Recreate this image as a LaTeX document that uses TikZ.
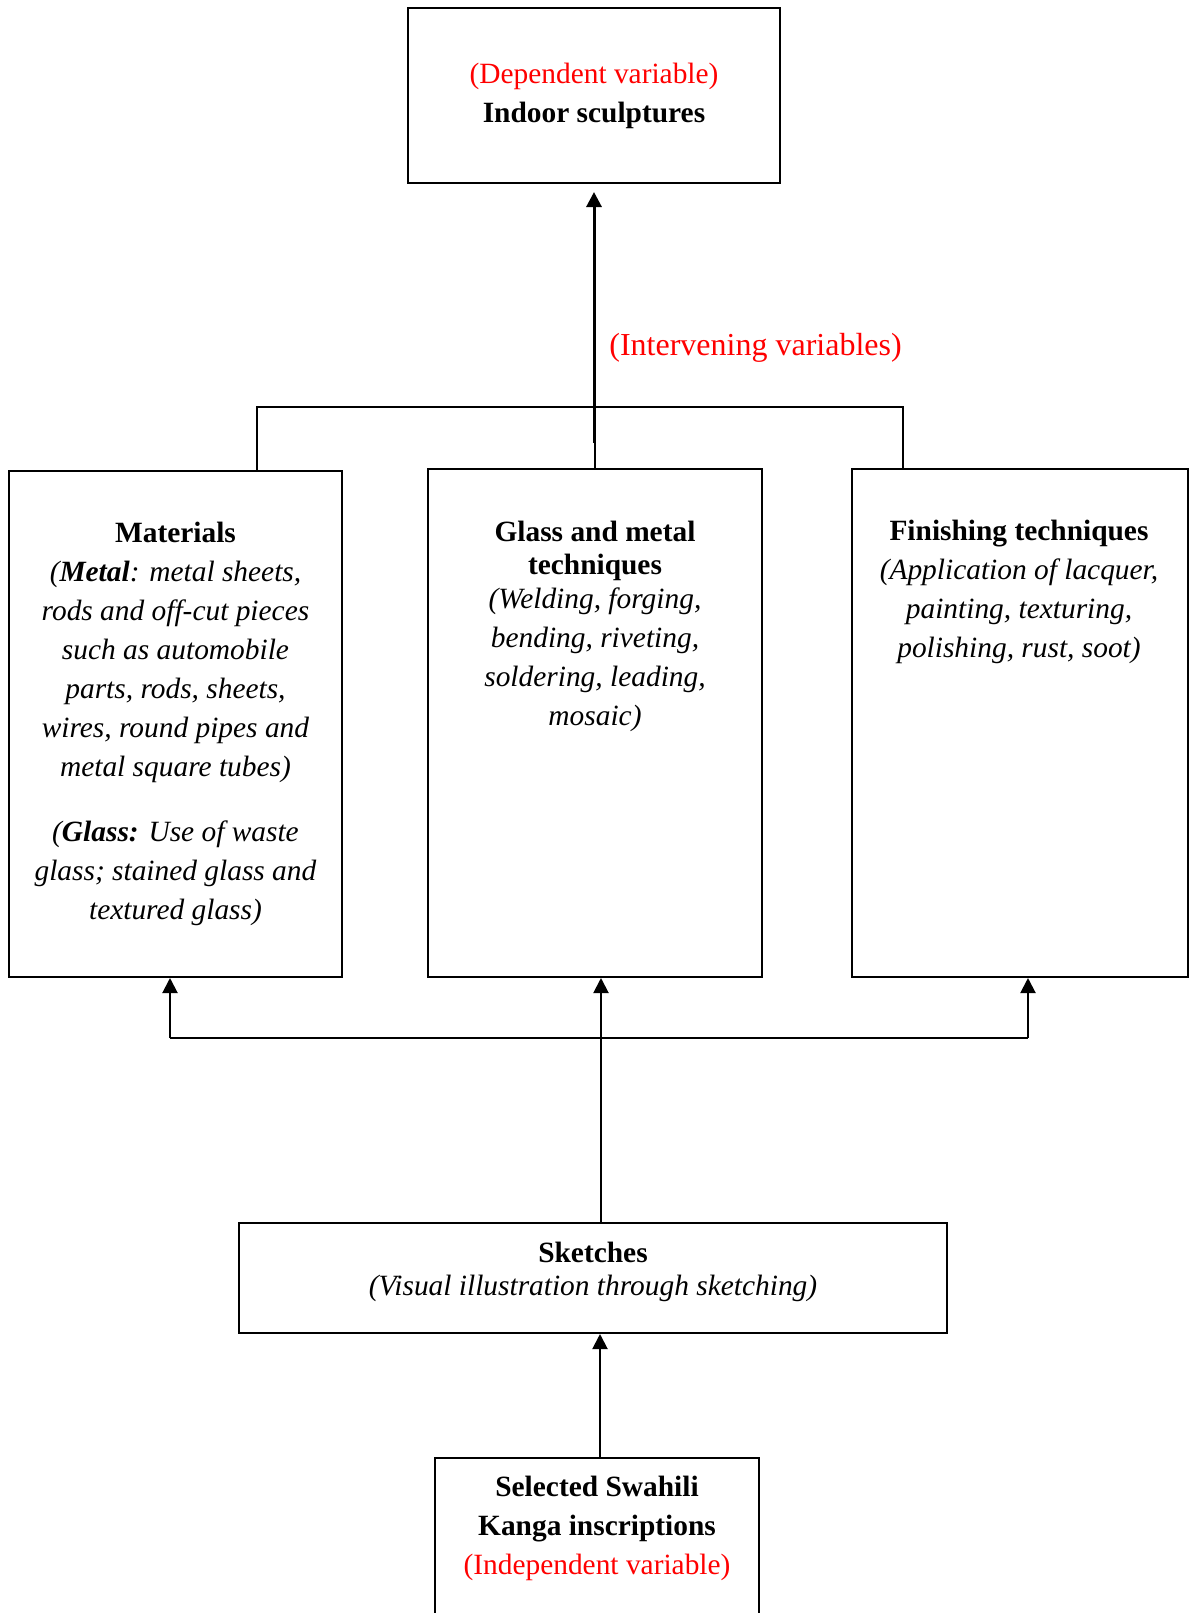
\documentclass[tikz,border=0pt]{standalone}
\usepackage{fontspec}
\setmainfont{Liberation Serif}
\usetikzlibrary{arrows.meta,fit}
\begin{document}
\begin{tikzpicture}[x=0.5pt,y=-0.5pt,
  box/.style={draw, line width=1pt, inner sep=0pt},
  txt/.style={align=center, inner sep=0pt, anchor=north, font=\fontsize{14.7pt}{19.5pt}\selectfont},
  conn/.style={line width=1pt},
  arr/.style={line width=1pt, -{Triangle[length=7.5pt,width=7.5pt]}}]
\useasboundingbox (0,0) rectangle (1189,1613);
% boxes
\node[box, fit={(408,8)(780,183)}] (dep) {};
\node[box, fit={(9,471)(342,977)}] (mat) {};
\node[box, fit={(428,469)(762,977)}] (gm) {};
\node[box, fit={(852,469)(1187.5,977)}] (fin) {};
\node[box, fit={(239,1223)(947,1333)}] (sk) {};
\node[box, fit={(435,1458)(759,1640)}] (sel) {};
% texts
\node[txt] (deptxt) at (594,63) {{\color{red}(Dependent variable)}\\\textbf{Indoor sculptures}};
\node[txt, anchor=west, text=red, font=\fontsize{16pt}{19pt}\selectfont] (interv) at (609,348) {(Intervening variables)};
\node[txt] (mattxt) at (175.5,522) {\textbf{Materials}\\
\textit{(\textbf{Metal}: metal sheets,}\\
\textit{rods and off-cut pieces}\\
\textit{such as automobile}\\
\textit{parts, rods, sheets,}\\
\textit{wires, round pipes and}\\
\textit{metal square tubes)}\\[13pt]
\textit{(\textbf{Glass:} Use of waste}\\
\textit{glass; stained glass and}\\
\textit{textured glass)}};
\node[txt] (gmtxt) at (595,521) {\textbf{Glass and metal}\\[-3pt]
\textbf{techniques}\\[-2.5pt]
\textit{(Welding, forging,}\\
\textit{bending, riveting,}\\
\textit{soldering, leading,}\\
\textit{mosaic)}};
\node[txt] (fintxt) at (1019,520) {\textbf{Finishing techniques}\\
\textit{(Application of lacquer,}\\
\textit{painting, texturing,}\\
\textit{polishing, rust, soot)}};
\node[txt] (sktxt) at (593,1242) {\textbf{Sketches}\\[-3pt]
\textit{(Visual illustration through sketching)}};
\node[txt] (seltxt) at (597,1476) {\textbf{Selected Swahili}\\
\textbf{Kanga inscriptions}\\
{\color{red}(Independent variable)}};
% connectors
\coordinate (stem) at (594,443);
\draw[arr, line width=1.5pt, shorten >=4pt] (stem) -- (stem |- dep.south);
\coordinate (bl) at (257,407);
\coordinate (br) at (903,407);
\draw[conn] (bl |- mat.north) -- (bl) -- (br) -- (br |- fin.north);
\draw[conn] (gm.north) -- (gm.north |- bl);
\coordinate (hl) at (170,1038);
\coordinate (hr) at (1028,1038);
\draw[conn] (hl) -- (hr);
\draw[arr] (hl) -- (hl |- mat.south);
\draw[arr] (hr) -- (hr |- fin.south);
\coordinate (skx) at (601,1100);
\draw[arr] (skx |- sk.north) -- (skx |- gm.south);
\coordinate (lx) at (600,1400);
\draw[arr] (lx |- sel.north) -- (lx |- sk.south);
\end{tikzpicture}
\end{document}
